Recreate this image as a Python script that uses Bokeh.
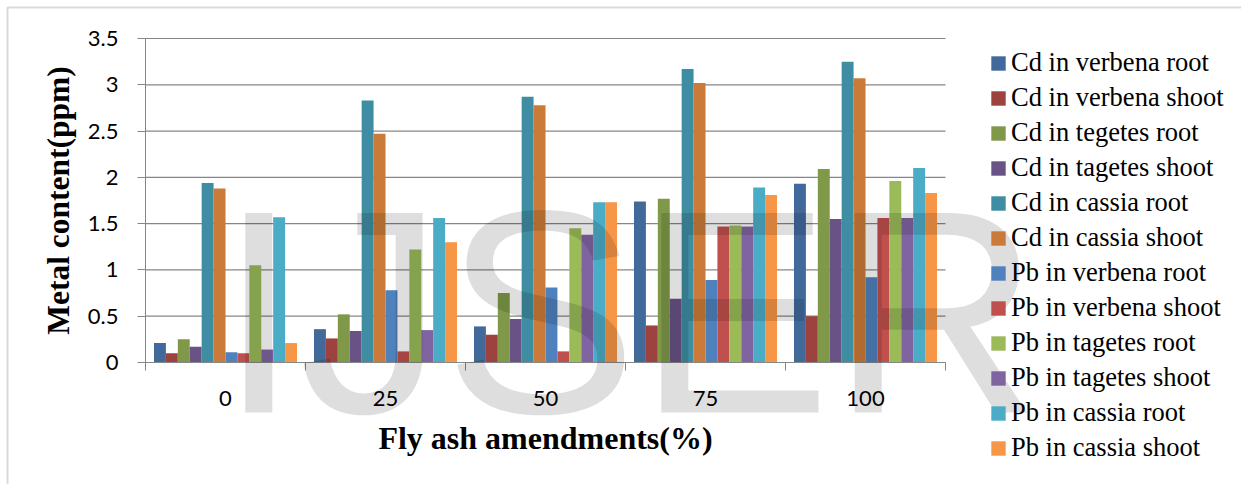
from bokeh.plotting import figure
from bokeh.models import (Range1d, FixedTicker, Legend, LegendItem, Label,
                          BoxAnnotation, NumeralTickFormatter)
from bokeh.embed import file_html
from bokeh.resources import INLINE

# Fly ash amendment levels (%)
amendments = ["0", "25", "50", "75", "100"]

# Metal content (ppm) per series, one value per amendment level
cd_verbena_root = [0.21, 0.36, 0.39, 1.74, 1.93]
cd_verbena_shoot = [0.10, 0.26, 0.30, 0.40, 0.50]
cd_tegetes_root = [0.25, 0.52, 0.75, 1.77, 2.09]
cd_tagetes_shoot = [0.17, 0.34, 0.47, 0.69, 1.55]
cd_cassia_root = [1.94, 2.83, 2.87, 3.17, 3.25]
cd_cassia_shoot = [1.88, 2.47, 2.78, 3.02, 3.07]
pb_verbena_root = [0.11, 0.78, 0.81, 0.89, 0.92]
pb_verbena_shoot = [0.10, 0.12, 0.12, 1.47, 1.56]
pb_tagetes_root = [1.05, 1.22, 1.45, 1.48, 1.96]
pb_tagetes_shoot = [0.14, 0.35, 1.38, 1.47, 1.56]
pb_cassia_root = [1.57, 1.56, 1.73, 1.89, 2.10]
pb_cassia_shoot = [0.21, 1.30, 1.73, 1.81, 1.83]

series_names = [
    "Cd in verbena root", "Cd in verbena shoot", "Cd in tegetes root",
    "Cd in tagetes shoot", "Cd in cassia root", "Cd in cassia shoot",
    "Pb in verbena root", "Pb in verbena shoot", "Pb in tagetes root",
    "Pb in tagetes shoot", "Pb in cassia root", "Pb in cassia shoot",
]
series_values = [
    cd_verbena_root, cd_verbena_shoot, cd_tegetes_root, cd_tagetes_shoot,
    cd_cassia_root, cd_cassia_shoot, pb_verbena_root, pb_verbena_shoot,
    pb_tagetes_root, pb_tagetes_shoot, pb_cassia_root, pb_cassia_shoot,
]
series_colors = [
    "#416A9B", "#9D423F", "#7F9949", "#695285", "#3E8DA3", "#CB7B39",
    "#4F81BD", "#C0504D", "#9BBB59", "#8064A2", "#4BACC6", "#F79646",
]

y_ticks = [0, 0.5, 1, 1.5, 2, 2.5, 3, 3.5]

GRID = "#868686"
W, H = 1241, 484
# plot area in canvas pixels: left, right, top, bottom
PL, PR, PT, PB = 145, 945, 38, 362
n_groups = len(amendments)
y_max = 3.5

# the frame fills the whole canvas; ranges are set so that the value
# domain (0..n_groups, 0..y_max) lands on the plot area
px_x = (PR - PL) / n_groups
px_y = (PB - PT) / y_max
x_range = Range1d(-PL / px_x, (W - PL) / px_x)
y_range = Range1d(-(H - PB) / px_y, y_max + PT / px_y)

p = figure(width=W, height=H, x_range=x_range, y_range=y_range,
           output_backend="svg", toolbar_location=None,
           min_border=0, min_border_left=0, min_border_right=0,
           min_border_top=0, min_border_bottom=0)
p.outline_line_color = None
p.background_fill_color = "white"
p.border_fill_color = "white"
p.xgrid.visible = False
p.ygrid.visible = False

# horizontal gridlines across the plot area
p.segment(x0=[0] * len(y_ticks), x1=[n_groups] * len(y_ticks),
          y0=y_ticks, y1=y_ticks, line_color=GRID, line_width=1.2)

# clustered bars: 12 bars per amendment level
bar_w = 0.0745
n = len(series_names)
renderers = []
for j, (name, vals, col) in enumerate(zip(series_names, series_values, series_colors)):
    xs = [i + 0.5 + (j - (n - 1) / 2) * bar_w for i in range(n_groups)]
    r = p.vbar(x=xs, top=vals, width=bar_w, bottom=0,
               fill_color=col, line_color=None)
    renderers.append(r)

# x axis: labels at group centres, tick marks at group boundaries
centers = [i + 0.5 for i in range(n_groups)]
xa = p.xaxis[0]
xa.fixed_location = 0
xa.bounds = (0, n_groups)
xa.ticker = FixedTicker(ticks=centers, minor_ticks=list(range(n_groups + 1)))
xa.major_label_overrides = {c: a for c, a in zip(centers, amendments)}
xa.major_tick_out = 0
xa.major_tick_in = 0
xa.minor_tick_out = 8
xa.minor_tick_in = 0
xa.minor_tick_line_color = GRID
xa.axis_line_color = GRID
xa.major_label_standoff = 20
xa.axis_label = "Fly ash amendments(%)"
xa.axis_label_standoff = 11
xa.axis_label_text_font_size = "32px"

ya = p.yaxis[0]
ya.fixed_location = 0
ya.bounds = (0, y_max)
ya.ticker = FixedTicker(ticks=y_ticks)
ya.formatter = NumeralTickFormatter(format="0.[0]")
ya.major_tick_out = 8
ya.major_tick_in = 0
ya.minor_tick_line_color = None
ya.major_tick_line_color = GRID
ya.axis_line_color = GRID
ya.major_label_standoff = 19
ya.axis_label = "Metal content(ppm)"
ya.axis_label_standoff = 9
ya.axis_label_text_font_size = "31.5px"

for ax in (xa, ya):
    ax.major_label_text_font = "Lato"
    ax.major_label_text_font_size = "22px"
    ax.major_label_text_color = "black"
    ax.axis_label_text_font = "Liberation Serif"
    ax.axis_label_text_font_style = "bold"
    ax.axis_label_text_color = "black"

# chart area border (top and left edges visible)
p.add_layout(BoxAnnotation(left=7, right=W + 20, top=H - 7, bottom=-20,
                           left_units="screen", right_units="screen",
                           top_units="screen", bottom_units="screen",
                           fill_alpha=0, line_color=GRID, line_width=2))

# watermark
p.add_layout(Label(x=218, y=173, x_units="screen", y_units="screen",
                   text="IJSER", text_font="Liberation Sans",
                   text_font_size="290px", text_color="black",
                   text_alpha=0.13, text_baseline="alphabetic"))

legend = Legend(
    items=[LegendItem(label=nm, renderers=[r]) for nm, r in zip(series_names, renderers)],
    location=(989, 21),
    glyph_width=18, glyph_height=18, label_standoff=4,
    label_height=18, spacing=4, padding=0, margin=0,
    label_text_font="Liberation Serif", label_text_font_size="26.5px",
    label_text_color="black",
    border_line_color=None, background_fill_alpha=0,
)
p.add_layout(legend)

open("out.html", "w").write(file_html(p, INLINE))
